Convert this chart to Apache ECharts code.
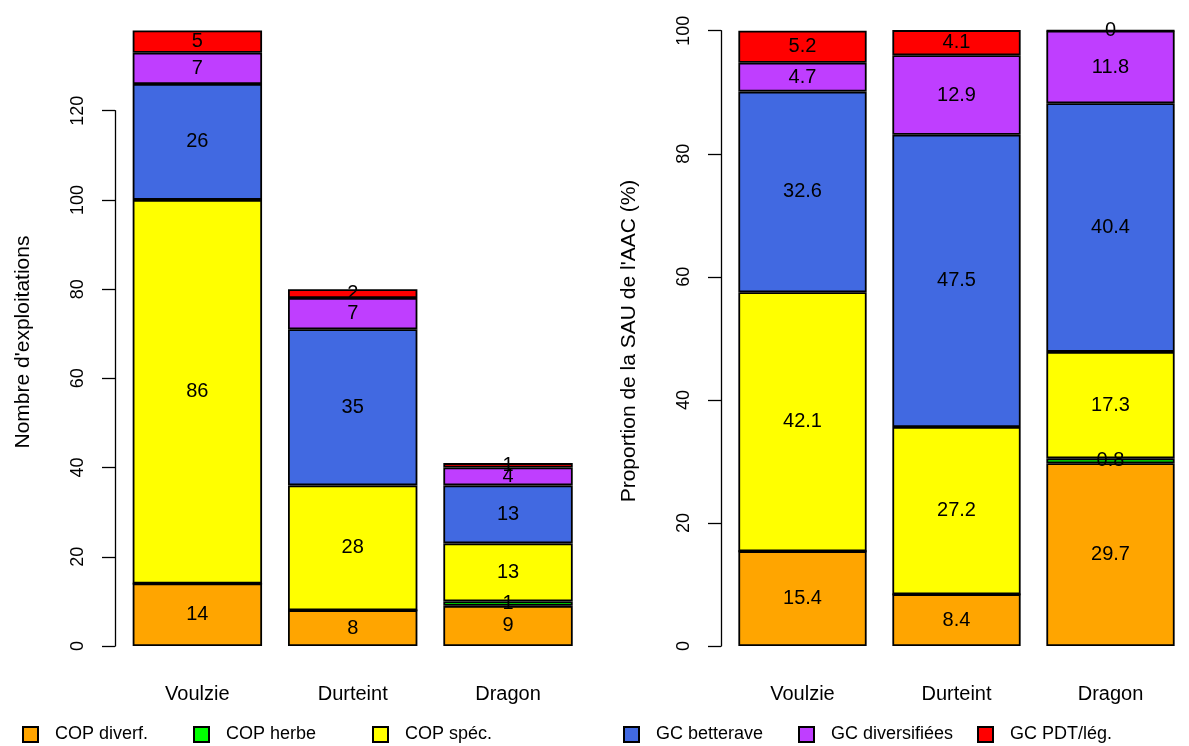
<!DOCTYPE html>
<html>
<head>
<meta charset="utf-8">
<script src="https://cdn.jsdelivr.net/npm/echarts@6/dist/echarts.min.js"></script>
<style>
html,body{margin:0;padding:0;background:#fff;}
#chart{width:1189px;height:746px;}
</style>
</head>
<body>
<div id="chart"></div>
<script>
const categories = ['Voulzie', 'Durteint', 'Dragon'];
const seriesNames = ['COP diverf.', 'COP herbe', 'COP spéc.', 'GC betterave', 'GC diversifiées', 'GC PDT/lég.'];
const seriesColors = ['#FFA500', '#00FF00', '#FFFF00', '#4169E1', '#BF3EFF', '#FF0000'];

// Nombre d'exploitations
const nbCopDiverf = [14, 8, 9];
const nbCopHerbe = [0, 0, 1];
const nbCopSpec = [86, 28, 13];
const nbGcBetterave = [26, 35, 13];
const nbGcDiversifiees = [7, 7, 4];
const nbGcPdtLeg = [5, 2, 1];

// Proportion de la SAU de l'AAC (%)
const pctCopDiverf = [15.4, 8.4, 29.7];
const pctCopHerbe = [0, 0, 0.8];
const pctCopSpec = [42.1, 27.2, 17.3];
const pctGcBetterave = [32.6, 47.5, 40.4];
const pctGcDiversifiees = [4.7, 12.9, 11.8];
const pctGcPdtLeg = [5.2, 4.1, 0.04];

const leftTicks = [0, 20, 40, 60, 80, 100, 120];
const rightTicks = [0, 20, 40, 60, 80, 100];

const nbData = [nbCopDiverf, nbCopHerbe, nbCopSpec, nbGcBetterave, nbGcDiversifiees, nbGcPdtLeg];
const pctData = [pctCopDiverf, pctCopHerbe, pctCopSpec, pctGcBetterave, pctGcDiversifiees, pctGcPdtLeg];

const FONT = "'Liberation Sans', Arial, Helvetica, sans-serif";
const FS = 18;
const FS_BIG = 20;
const FS_TITLE = 21;

function labelFmt(p) {
  if (!(p.value > 0)) return '';
  return String(Math.round(p.value * 10) / 10);
}

const series = [];
seriesNames.forEach((name, i) => {
  series.push({
    name: name, type: 'bar', stack: 'nb', xAxisIndex: 0, yAxisIndex: 0,
    data: nbData[i], barWidth: 129.4, clip: false,
    itemStyle: { color: seriesColors[i], borderColor: '#000', borderWidth: 1.8 },
    label: { show: true, position: 'inside', formatter: labelFmt, color: '#000', fontSize: FS_BIG, fontFamily: FONT },
    emphasis: { disabled: true }, animation: false
  });
  series.push({
    name: name, type: 'bar', stack: 'pct', xAxisIndex: 1, yAxisIndex: 1,
    data: pctData[i], barWidth: 128.3, clip: false,
    itemStyle: { color: seriesColors[i], borderColor: '#000', borderWidth: 1.8 },
    label: { show: true, position: 'inside', formatter: labelFmt, color: '#000', fontSize: FS_BIG, fontFamily: FONT },
    emphasis: { disabled: true }, animation: false
  });
});

const legendLefts = [22, 193, 372, 623, 798, 977];
const legends = seriesNames.map((n, i) => ({
  data: [n], left: legendLefts[i], top: 725.5, orient: 'horizontal', padding: 0,
  icon: 'rect', itemWidth: 15, itemHeight: 15,
  textStyle: { fontSize: FS, fontFamily: FONT, color: '#000', padding: [0, 0, 0, 12] },
  selectedMode: false
}));

const xAxisCommon = {
  type: 'category', data: categories,
  axisLine: { show: false }, axisTick: { show: false },
  axisLabel: { fontSize: FS_BIG, fontFamily: FONT, color: '#000', margin: 38 },
  splitLine: { show: false }
};

function yAxisCfg(gi, max, ticks) {
  return {
    type: 'value', gridIndex: gi, min: 0, max: max, interval: 20, offset: gi === 0 ? 4.7 : 4.5,
    axisLine: { show: true, lineStyle: { color: '#000', width: 1.3 } },
    axisTick: { show: true, length: 13, lineStyle: { color: '#000', width: 1.3 } },
    axisLabel: { rotate: 90, fontSize: FS, fontFamily: FONT, color: '#000', margin: 28,
      formatter: v => ticks.includes(v) ? String(v) : '' },
    splitLine: { show: false }
  };
}

const option = {
  backgroundColor: '#fff',
  animation: false,
  grid: [
    { left: 119.7, width: 466, top: 110.7, bottom: 100 },
    { left: 725.5, width: 462, top: 30.7, bottom: 100 }
  ],
  xAxis: [Object.assign({ gridIndex: 0 }, xAxisCommon), Object.assign({ gridIndex: 1 }, xAxisCommon)],
  yAxis: [yAxisCfg(0, 120, leftTicks), yAxisCfg(1, 100, rightTicks)],
  legend: legends,
  graphic: [
    { type: 'text', x: 23, y: 342, rotation: Math.PI / 2,
      style: { text: "Nombre d'exploitations", fontSize: FS_TITLE, fontFamily: FONT, fill: '#000', align: 'center', verticalAlign: 'middle' } },
    { type: 'text', x: 629, y: 341, rotation: Math.PI / 2,
      style: { text: "Proportion de la SAU de l'AAC (%)", fontSize: FS_TITLE, fontFamily: FONT, fill: '#000', align: 'center', verticalAlign: 'middle' } }
  ],
  series: series
};

const chart = echarts.init(document.getElementById('chart'), null, { renderer: 'canvas' });
chart.setOption(option);
</script>
</body>
</html>
